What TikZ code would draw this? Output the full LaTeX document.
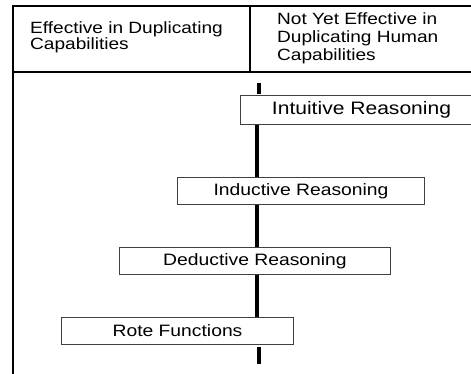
\documentclass[tikz,border=0pt]{standalone}
\usepackage{fontspec}
\usetikzlibrary{backgrounds}
\setmainfont{Liberation Sans}
\newfontfamily\boxfont[FakeStretch=1.17]{Liberation Sans}
\begin{document}
\begin{tikzpicture}[x=1pt,y=-1pt,
  frameline/.style={draw=black,line width=1.1pt},
  stagebox/.style={draw=black!75,line width=1pt,fill=white,anchor=north west,
    inner sep=0pt,font=\boxfont\fontsize{16.5}{18}\selectfont},
  hdrtext/.style={anchor=north west,inner sep=0pt,align=left},
  bar/.style={draw=black,line width=4pt}]
\useasboundingbox (0,0) rectangle (471,374);
% frame
\coordinate (tl) at (13,6);
\coordinate (tr) at (480,6);
\coordinate (hl) at (13,72);
\coordinate (hr) at (480,72);
\coordinate (bl) at (13,380);
\coordinate (dt) at (250,6);
\coordinate (db) at (250,72);
\draw[frameline] (tr) -- (tl) -- (bl);
\draw[frameline] (hl) -- (hr);
\draw[frameline] (dt) -- (db);
% header texts
\node[hdrtext,font=\boxfont\fontsize{16.3}{13.5}\selectfont] (hleft) at (30,21.5) {Effective in Duplicating\\Capabilities};
\node[hdrtext,font=\boxfont\fontsize{16.3}{17.8}\selectfont] (hright) at (277,12.8) {Not Yet Effective in\\Duplicating Human\\Capabilities};
% stage boxes
\node[stagebox,font=\boxfont\fontsize{18}{20}\selectfont,minimum width=242pt,minimum height=29pt] (intu) at (240,95) {Intuitive Reasoning\hspace{2pt}};
\node[stagebox,minimum width=247pt,minimum height=27pt] (indu) at (177,177) {Inductive Reasoning};
\node[stagebox,minimum width=271pt,minimum height=27pt] (dedu) at (119,247) {Deductive Reasoning\hspace{15pt}};
\node[stagebox,minimum width=232pt,minimum height=27pt] (rote) at (61,317) {Rote Functions};
% bars
\coordinate (barx) at (257,0);
\coordinate (b1top) at (259,83);
\coordinate (b1bot) at (259,94);
\coordinate (b5top) at (259,347);
\coordinate (b5bot) at (259,364);
\begin{scope}[on background layer]
\draw[bar] (b1top) -- (b1bot);
\draw[bar] (intu.south -| barx) -- (indu.north -| barx);
\draw[bar] (indu.south -| barx) -- (dedu.north -| barx);
\draw[bar] (dedu.south -| barx) -- (rote.north -| barx);
\draw[bar] (b5top) -- (b5bot);
\end{scope}
\end{tikzpicture}
\end{document}
